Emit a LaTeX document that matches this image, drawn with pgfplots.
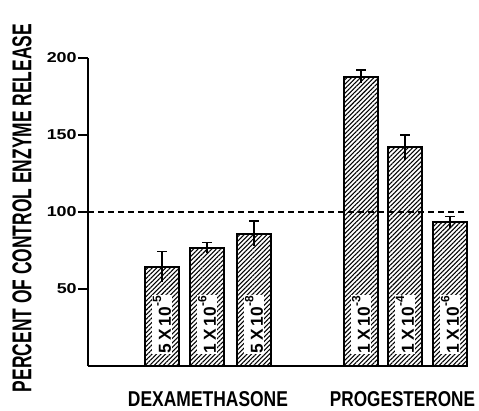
\documentclass[border=0pt]{standalone}
\usepackage{pgfplots}
\pgfplotsset{compat=1.18}
\usepackage{pgfplotstable}
\usepackage{fontspec}
\setmainfont{Liberation Sans}
\usetikzlibrary{patterns.meta}

\pgfplotstableread{
x y err
162 64.5 9.7
207 76.8 3.5
254 85.9 8.3
361 187.9 4.3
405 142.0 8.0
450 93.3 3.7
}\bardata

\newcommand{\expo}[1]{\raisebox{1.05ex}{\fontsize{9}{9}\selectfont #1}}
\newcommand{\tl}[1]{\resizebox{!}{7.5pt}{\bfseries #1}}

\begin{document}
\begin{tikzpicture}
\begin{axis}[
  at={(0,0)}, anchor=south west,
  scale only axis, width=284.25pt, height=231pt,
  xmin=88, xmax=467, ymin=0, ymax=200,
  axis lines=left, axis line style={-, line width=1.3pt},
  xtick=\empty, ytick={50,100,150,200},
  yticklabels={\scalebox{1.25}[1]{\tl{50}},\scalebox{1.25}[1]{\tl{100}},\scalebox{1.25}[1]{\tl{150}},\scalebox{1.25}[1]{\tl{200}}},
  tick style={line width=1.1pt, black},
  major tick length=7.5pt, tick align=outside,
  yticklabel style={inner sep=0.8pt},
  clip=false,
]
\addplot[black, line width=0.8pt, dash pattern=on 4.5pt off 3pt] coordinates {(88,100) (467,100)};
\addplot[ybar, bar width=34, bar shift=0pt, draw=black, line width=1.3pt,
  pattern={Lines[angle=45,distance=2.4pt,line width=0.8pt]}, pattern color=black,
  error bars/.cd, y dir=plus, y explicit,
  error mark options={black, line width=1pt, mark size=3.5pt, rotate=90},
  error bar style={black, line width=1pt}]
  table[x=x, y=y, y error=err]{\bardata};
\addplot[ybar, bar width=34, bar shift=0pt, draw=none, fill=none, forget plot,
  error bars/.cd, y dir=minus, y explicit, error mark=none,
  error bar style={draw=black, line width=1pt}]
  table[x=x, y=y, y error=err]{\bardata};

\tikzset{blab/.style={rotate=90, anchor=west, fill=white, inner sep=0.8pt, font=\fontsize{13}{14}\selectfont\bfseries}}
\node[blab] at (axis cs:162,7.5) {5\,X\,10\expo{-5}};
\node[blab] at (axis cs:207,7.5) {1\,X\,10\expo{-6}};
\node[blab] at (axis cs:254,7.5) {5\,X\,10\expo{-8}};
\node[blab] at (axis cs:361,7.5) {1\,X\,10\expo{-3}};
\node[blab] at (axis cs:405,7.5) {1\,X\,10\expo{-4}};
\node[blab] at (axis cs:450,7.5) {1\,X\,10\expo{-6}};

\node[rotate=90, inner sep=0pt] at (axis cs:22,102.6) {\resizebox{276pt}{14.25pt}{\bfseries PERCENT OF CONTROL ENZYME RELEASE}};
\node[inner sep=0pt] at (axis cs:208,-21.4) {\resizebox{120pt}{11.25pt}{\bfseries DEXAMETHASONE}};
\node[inner sep=0pt] at (axis cs:402.5,-21.4) {\resizebox{108.75pt}{11.25pt}{\bfseries PROGESTERONE}};
\end{axis}
\pgfresetboundingbox
\path[use as bounding box] (-66pt,-33.75pt) rectangle (293.25pt,274.5pt);
\end{tikzpicture}
\end{document}
